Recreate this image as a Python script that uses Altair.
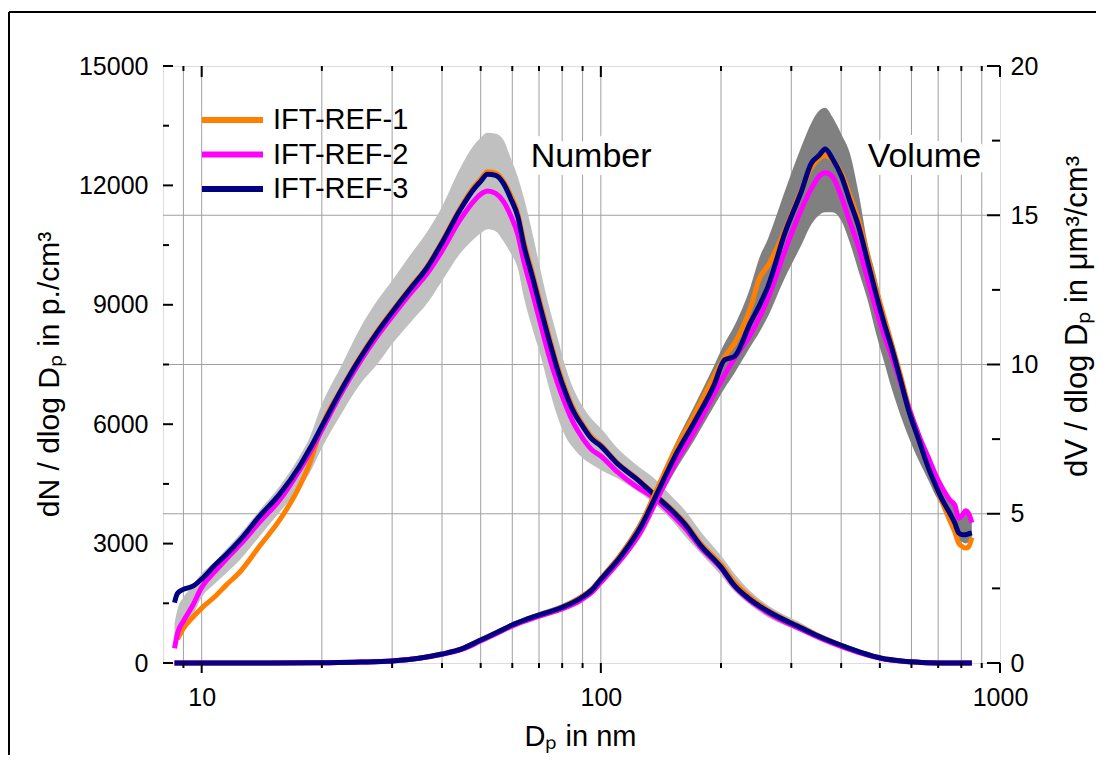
import altair as alt
import pandas as pd

FONT = "Liberation Sans"
W, H = 837, 597

# ---------------- data ----------------
series = ["IFT-REF-1", "IFT-REF-2", "IFT-REF-3"]
series_colors = ["#FF8000", "#FF00FF", "#000080"]

# number size distribution (left axis, p./cm3)
dp_num = [8.55, 8.7, 9.0, 9.5, 10.0, 10.8, 11.5, 12.5, 14.0, 15.7,
          17.6, 18.7, 20.0, 22.2, 24.9, 27.5, 30.2, 33.3, 36.8, 39.7,
          44.5, 48.0, 50.0, 52.0, 54.5, 57.0, 59.4, 62.0, 64.1, 67.4,
          70.5, 74.0, 77.8, 81.5, 85.7, 90.0, 94.5, 100, 110, 122,
          136, 150, 162, 178, 200, 216, 237, 262, 318, 357,
          401, 450, 505, 567, 637, 720, 850]
num_ref1 = [None, 600, 870, 1150, 1380, 1670, 1950, 2300, 2950, 3600,
            4450, 5050, 5950, 6820, 7680, 8330, 8880, 9430, 9980, 10530,
            11440, 11950, 12160, 12340, 12310, 12110, 11760, 11280, 10600, 9800,
            9040, 8250, 7480, 6880, 6360, 6000, 5700, 5480, 5030, 4670,
            4250, 3880, 3540, 3000, 2480, 2040, 1650, 1330, 890, 650,
            440, 260, 120, 50, 15, 3, 0]
num_ref2 = [370, 750, 1050, 1450, 1900, 2300, 2600, 2980, 3550, 4100,
            4850, 5300, 5850, 6720, 7560, 8200, 8740, 9280, 9800, 10300,
            11150, 11600, 11780, 11860, 11800, 11600, 11250, 10750, 10100, 9300,
            8550, 7750, 7050, 6500, 6000, 5650, 5380, 5200, 4800, 4450,
            4150, 3750, 3400, 2900, 2380, 1930, 1560, 1260, 840, 610,
            410, 240, 110, 45, 12, 2, 0]
num_ref3 = [1520, 1750, 1850, 1930, 2110, 2460, 2720, 3100, 3700, 4250,
            4950, 5400, 5950, 6800, 7650, 8300, 8850, 9400, 9950, 10500,
            11400, 11900, 12100, 12280, 12250, 12050, 11680, 11200, 10500, 9700,
            8940, 8150, 7390, 6800, 6290, 5950, 5650, 5450, 5010, 4650,
            4230, 3850, 3500, 2950, 2410, 1950, 1590, 1300, 880, 640,
            440, 260, 120, 50, 15, 3, 0]
num_band_lo = [350, 550, 850, 1200, 1650, 2000, 2250, 2600, 3200, 3800,
               4400, 4800, 5400, 6200, 7000, 7500, 8050, 8550, 9050, 9550,
               10300, 10650, 10800, 10900, 10850, 10600, 10300, 9900, 9200, 8400,
               7750, 6950, 6200, 5700, 5380, 5150, 5000, 4850, 4640, 4350,
               4000, 3600, 3200, 2750, 2200, 1800, 1450, 1150, 780, 560,
               380, 220, 90, 30, 5, 0, 0]
num_band_hi = [1000, 1350, 1650, 1950, 2250, 2550, 2850, 3250, 3850, 4450,
               5200, 5700, 6500, 7400, 8400, 9100, 9650, 10250, 10850, 11400,
               12450, 13000, 13200, 13320, 13300, 13150, 12700, 12200, 11700, 10800,
               9900, 9000, 8200, 7450, 6850, 6450, 6150, 5900, 5400, 5000,
               4640, 4200, 3850, 3300, 2700, 2250, 1800, 1450, 1000, 720,
               500, 300, 150, 70, 25, 6, 2]

# volume size distribution (right axis, um3/cm3)
dp_vol = [8.55, 15, 20, 25, 30, 35, 40, 45, 50, 55,
          60.5, 65, 70.5, 79.5, 89, 95, 100, 112, 126, 138.5,
          153, 172, 192, 204, 216, 237, 250, 262, 289, 318,
          337, 352, 365, 380, 401, 420, 443, 465, 488, 512,
          538, 563, 589, 625, 663, 690, 718, 750, 770, 789,
          805, 820, 835, 850]
vol_ref1 = [0, 0, 0.01, 0.03, 0.07, 0.16, 0.3, 0.48, 0.77, 1.03,
            1.3, 1.46, 1.62, 1.86, 2.2, 2.48, 2.83, 3.62, 4.65, 5.85,
            7.1, 8.35, 9.6, 10.25, 10.7, 11.9, 12.9, 13.3, 14.5, 15.85,
            16.6, 16.9, 17.0, 16.85, 16.4, 15.7, 14.8, 13.7, 12.6, 11.6,
            10.6, 9.65, 8.65, 7.6, 6.55, 5.95, 5.35, 4.75, 4.4, 4.0,
            3.9, 3.85, 3.9, 4.2]
vol_ref2 = [0, 0, 0.01, 0.03, 0.07, 0.16, 0.29, 0.46, 0.74, 1.0,
            1.26, 1.42, 1.58, 1.8, 2.1, 2.37, 2.7, 3.45, 4.4, 5.5,
            6.65, 7.8, 9.0, 9.65, 10.2, 11.0, 11.6, 12.2, 13.8, 15.2,
            15.9, 16.3, 16.42, 16.3, 15.6, 14.8, 13.9, 12.9, 11.9, 11.0,
            10.2, 9.4, 8.6, 7.65, 6.85, 6.3, 5.85, 5.45, 5.3, 4.85,
            4.95, 5.1, 5.0, 4.7]
vol_ref3 = [0, 0, 0.01, 0.03, 0.07, 0.16, 0.3, 0.48, 0.77, 1.03,
            1.3, 1.46, 1.62, 1.85, 2.17, 2.45, 2.8, 3.56, 4.57, 5.7,
            6.9, 8.1, 9.3, 10.15, 10.27, 11.4, 12.0, 12.6, 14.4, 15.8,
            16.75, 17.0, 17.22, 16.9, 16.3, 15.5, 14.6, 13.5, 12.41, 11.4,
            10.46, 9.5, 8.51, 7.5, 6.5, 5.95, 5.45, 5.0, 4.7, 4.35,
            4.3, 4.3, 4.33, 4.36]
vol_band_lo = [0, 0, 0, 0.02, 0.05, 0.13, 0.25, 0.42, 0.7, 0.95,
               1.2, 1.36, 1.52, 1.74, 2.05, 2.3, 2.62, 3.35, 4.3, 5.35,
               6.4, 7.5, 8.6, 9.2, 9.7, 10.6, 11.1, 11.6, 12.9, 14.0,
               14.7, 15.0, 15.1, 15.1, 14.8, 14.1, 13.1, 12.2, 11.1, 10.1,
               9.1, 8.3, 7.6, 6.8, 6.1, 5.6, 5.2, 4.6, 4.3, 4.1,
               4.05, 4.0, 4.05, 4.2]
vol_band_hi = [0, 0.01, 0.02, 0.05, 0.1, 0.2, 0.35, 0.55, 0.85, 1.1,
               1.38, 1.55, 1.72, 1.96, 2.3, 2.6, 2.95, 3.75, 4.85, 6.0,
               7.3, 8.65, 9.95, 10.7, 11.3, 12.6, 13.6, 14.2, 15.8, 17.3,
               18.1, 18.5, 18.6, 18.3, 17.7, 17.1, 15.7, 14.1, 13.0, 11.8,
               10.8, 9.7, 8.7, 7.9, 6.9, 6.3, 5.8, 5.5, 5.2, 4.9,
               4.9, 5.0, 4.95, 4.75]

# axis tick values
x_major = [10, 100, 1000]
x_minor = [9, 20, 30, 40, 50, 60, 70, 80, 90, 200, 300, 400, 500, 600, 700, 800, 900]
x_grid = [9, 10, 20, 30, 40, 50, 60, 70, 80, 90, 100, 200, 300, 400, 500, 600, 700, 800, 900]
num_major = [0, 3000, 6000, 9000, 12000, 15000]
num_minor = [1500, 4500, 7500, 10500, 13500]
vol_major = [0, 5, 10, 15, 20]
vol_minor = [2.5, 7.5, 12.5, 17.5]
vol_grid = [5, 10, 15]

annotations = ["Number", "Volume"]
ann_dp = [66.7, 466]
ann_num = [12460, 12460]

# ---------------- tables ----------------
def long_table(dp, arrays):
    rows = []
    for name, vals in zip(series, arrays):
        for d, v in zip(dp, vals):
            if v is not None:
                rows.append({"dp": d, "val": v, "series": name})
    return pd.DataFrame(rows)

num_df = long_table(dp_num, [num_ref1, num_ref2, num_ref3])
vol_df = long_table(dp_vol, [vol_ref1, vol_ref2, vol_ref3])
num_band = pd.DataFrame({"dp": dp_num, "lo": num_band_lo, "hi": num_band_hi})
vol_band = pd.DataFrame({"dp": dp_vol, "lo": vol_band_lo, "hi": vol_band_hi})
ann_df = pd.DataFrame({"dp": ann_dp, "n": ann_num, "label": annotations})

xs = alt.Scale(type="log", domain=[8, 1000], nice=False)
yn = alt.Scale(domain=[0, 15000], nice=False)
yv = alt.Scale(domain=[0, 20], nice=False)

def X(field="dp:Q", axis=None):
    return alt.X(field, scale=xs, axis=axis)

GRID = "#A0A0A0"

grid_v = alt.Chart(pd.DataFrame({"dp": x_grid})).mark_rule(
    color=GRID, strokeWidth=1).encode(x=X())
grid_h = alt.Chart(pd.DataFrame({"v": vol_grid})).mark_rule(
    color=GRID, strokeWidth=1).encode(y=alt.Y("v:Q", scale=yv, axis=None))

bottom_axis = alt.Axis(
    orient="bottom", values=x_major, format="d", ticks=False, tickSize=0,
    domain=False, grid=False, labelFontSize=25,
    labelFont=FONT, labelColor="black", labelBaseline="alphabetic",
    labelPadding=42, labelFlush=False, labelOverlap=False,
    title="Dₚ in nm", titleFontSize=29, titleFont=FONT,
    titleFontWeight="normal", titleColor="black", titleX=417, titleY=82,
    titleBaseline="alphabetic", titleAlign="center")

left_axis = alt.Axis(
    orient="left", values=num_major, format="d", ticks=False, tickSize=0,
    domain=False, grid=False, labelFontSize=25, labelFont=FONT,
    labelColor="black", labelPadding=15, labelFlush=False,
    title="dN / dlog Dₚ in p./cm³", titleFontSize=30, titleFont=FONT,
    titleFontWeight="normal", titleColor="black", titleAngle=270,
    titleX=-105, titleY=308, titleBaseline="alphabetic", titleAlign="center")

right_axis = alt.Axis(
    orient="right", values=vol_major, format="d", ticks=False, tickSize=0,
    domain=False, grid=False, labelFontSize=25, labelFont=FONT,
    labelColor="black", labelPadding=10, labelFlush=False,
    title="dV / dlog Dₚ in μm³/cm³", titleFontSize=31, titleFont=FONT,
    titleFontWeight="normal", titleColor="black", titleAngle=270,
    titleX=86, titleY=250, titleBaseline="alphabetic", titleAlign="center")

band_vol_layer = alt.Chart(vol_band).mark_area(
    color="#808080", interpolate="monotone").encode(
    x=X(), y=alt.Y("lo:Q", scale=yv, axis=right_axis), y2="hi:Q")
band_num_layer = alt.Chart(num_band).mark_area(
    color="#C0C0C0", interpolate="monotone").encode(
    x=X(), y=alt.Y("lo:Q", scale=yn, axis=left_axis), y2="hi:Q")

color_scale = alt.Scale(domain=series, range=series_colors)
legend = alt.Legend(
    orient="none", legendX=36, legendY=39, title=None, symbolType="stroke",
    symbolSize=3721, symbolStrokeWidth=6, labelFontSize=29, labelFont=FONT,
    labelColor="black", labelOffset=7, clipHeight=30, rowPadding=4.5,
    padding=0, labelLimit=0)

lines_num = alt.Chart(num_df).mark_line(strokeWidth=5, interpolate="monotone").encode(
    x=X(), y=alt.Y("val:Q", scale=yn, axis=None),
    color=alt.Color("series:N", scale=color_scale, legend=legend))
lines_vol = alt.Chart(vol_df).mark_line(strokeWidth=5, interpolate="monotone").encode(
    x=X(), y=alt.Y("val:Q", scale=yv, axis=None),
    color=alt.Color("series:N", scale=color_scale, legend=None))

ann_halo = alt.Chart(ann_df).mark_text(
    align="left", baseline="alphabetic", fontSize=34, font=FONT, color="white",
    stroke="white", strokeWidth=16, strokeJoin="round").encode(
    x=X(), y=alt.Y("n:Q", scale=yn, axis=None), text="label:N")
ann_layer = alt.Chart(ann_df).mark_text(
    align="left", baseline="alphabetic", fontSize=34, font=FONT, color="black").encode(
    x=X(), y=alt.Y("n:Q", scale=yn, axis=None), text="label:N")

def tick_rules(values, scale, channel, a, b, axis=None):
    base = alt.Chart(pd.DataFrame({"v": values})).mark_rule(color="black", strokeWidth=2)
    if channel == "y":
        return base.encode(y=alt.Y("v:Q", scale=scale, axis=axis),
                           x=alt.value(a), x2=alt.value(b))
    return base.encode(x=alt.X("v:Q", scale=scale, axis=axis),
                       y=alt.value(a), y2=alt.value(b))

ticks = [
    tick_rules(num_major, yn, "y", 0, 10),
    tick_rules(num_minor, yn, "y", 0, 6),
    tick_rules(vol_major, yv, "y", W - 13, W),
    tick_rules(vol_minor, yv, "y", W - 8, W),
    tick_rules(x_major, xs, "x", 0, 11),
    tick_rules(x_minor, xs, "x", 0, 5),
    tick_rules(x_minor, xs, "x", H, H + 5),
    tick_rules(x_major, xs, "x", H, H + 10, axis=bottom_axis),
]

one = pd.DataFrame({"k": [0]})
frame_left = alt.Chart(one).mark_rule(color="black", strokeWidth=2).encode(
    x=alt.value(-154), y=alt.value(-54), y2=alt.value(H + 120))
frame_top = alt.Chart(one).mark_rule(color="black", strokeWidth=2).encode(
    x=alt.value(-154), x2=alt.value(W + 120), y=alt.value(-54))

chart = alt.layer(
    grid_v, grid_h, band_vol_layer, band_num_layer, lines_num, lines_vol,
    ann_halo, ann_layer, *ticks, frame_left, frame_top
).resolve_scale(y="independent").resolve_axis(x="independent").properties(
    width=W, height=H,
    padding={"left": 155, "top": 58, "right": 96, "bottom": 92},
    autosize=alt.AutoSizeParams(type="none"),
).configure_view(stroke="black", strokeWidth=2).configure(font=FONT, background="white")

chart.save("out.html", embed_options={"renderer": "svg", "actions": False})
